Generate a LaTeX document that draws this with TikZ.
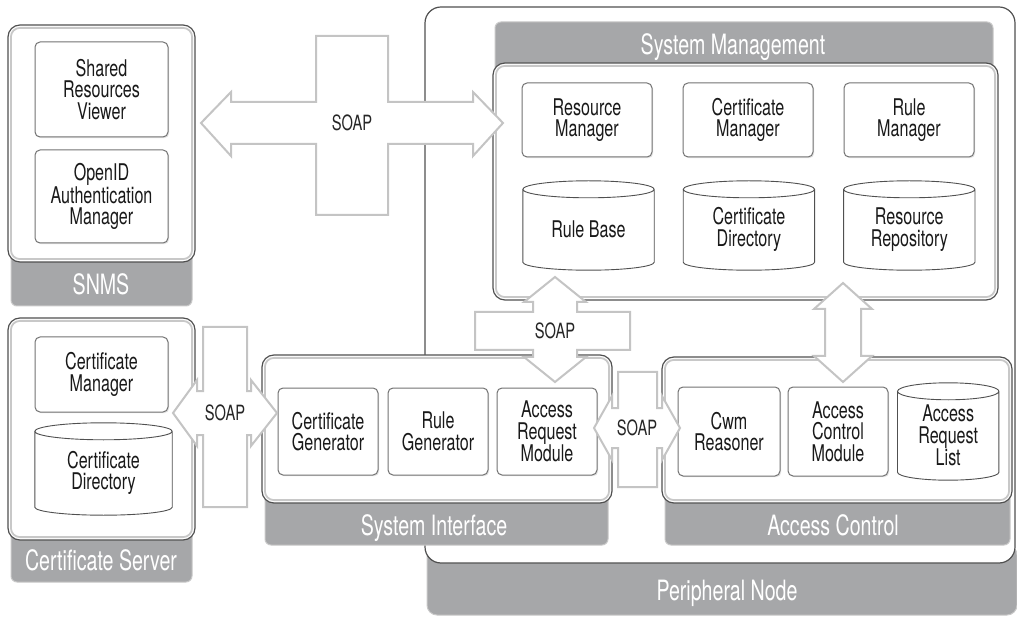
\documentclass[tikz,border=0pt]{standalone}
\usepackage{fontspec}
\setmainfont{TeX Gyre Heros}[FakeStretch=0.7]
\usetikzlibrary{shapes,arrows,positioning,shadows,calc}
\definecolor{bandgray}{RGB}{166,167,169}
\definecolor{framegray}{RGB}{80,80,80}
\definecolor{linegray}{RGB}{200,200,200}
\definecolor{boxgray}{RGB}{115,115,115}
\definecolor{soapgray}{RGB}{196,196,196}

\begin{document}
\begin{tikzpicture}[x=1pt,y=-1pt,
    band/.style={rectangle,draw=linegray,fill=bandgray,rounded corners=6pt,line width=1pt},
    frame/.style={rectangle,draw=framegray,fill=white,rounded corners=12pt,line width=1.2pt},
    inline/.style={draw=linegray,line width=1.8pt,rounded corners=9pt},
    comp/.style={rectangle,draw=boxgray,fill=white,rounded corners=5pt,line width=1pt,align=center,inner sep=0pt,
      text=black!90,font=\fontsize{23}{21.5}\selectfont,
      drop shadow={opacity=0.22,shadow xshift=1.2pt,shadow yshift=-1.2pt}},
    dbase/.style={rectangle,align=center,inner sep=0pt,text=black!90,font=\fontsize{23}{21.5}\selectfont},
    cyl/.style={draw=framegray,line width=0.9pt},
    grp/.style={anchor=base,text=white,font=\fontsize{28}{30}\selectfont},
    soap/.style={draw=soapgray,fill=white,line width=2pt,line join=miter},
    soaplbl/.style={text=black!85,font=\fontsize{21}{22}\selectfont}]
    \useasboundingbox (0,0) rectangle (1017,617);

    \node[band,rounded corners=10pt,minimum width=590pt,minimum height=70pt] (pnb) at (722,580) {};
    \node[frame,rounded corners=16pt,minimum width=590pt,minimum height=556pt] (pnf) at (720,285) {};
    \node[grp] (pnl) at (727,600) {Peripheral Node};

    \node[band,minimum width=181pt,minimum height=279pt] (snmsb) at (101.5,166.5) {};
    \node[frame,minimum width=187pt,minimum height=237pt] (snmsf) at (101.5,143.5) {};
    \node[grp] (snmsl) at (101,295) {SNMS};

    \node[band,minimum width=181pt,minimum height=262pt] (certb) at (101.5,451) {};
    \node[frame,minimum width=187pt,minimum height=222pt] (certf) at (101.5,429) {};
    \node[grp] (certl) at (101,570) {Certificate Server};

    \node[band,minimum width=498pt,minimum height=88pt] (smb) at (744,66) {};
    \node[frame,minimum width=505pt,minimum height=237pt] (smf) at (745.5,181.5) {};
    \node[grp] (sml) at (733,55) {System Management};

    \node[band,minimum width=343pt,minimum height=185pt] (sib) at (436.5,452.5) {};
    \node[frame,minimum width=350pt,minimum height=148pt] (sif) at (437,429) {};
    \node[grp] (sil) at (434,535) {System Interface};

    \node[band,minimum width=345pt,minimum height=185pt] (acb) at (837.5,452.5) {};
    \node[frame,minimum width=350pt,minimum height=146pt] (acf) at (837,430) {};
    \node[grp] (acl) at (833,535) {Access Control};

    \foreach \f in {snmsf,certf,smf,sif,acf}
      \draw[inline] ([shift={(3.5,3.5)}]\f.north west) rectangle ([shift={(-3.5,-3.5)}]\f.south east);

    \node[comp,minimum width=133pt,minimum height=95pt] (srv) at (101.5,89.5) {Shared\\Resources\\Viewer};
    \node[comp,minimum width=133pt,minimum height=93pt,below=12pt of srv] (oidm) {OpenID\\Authentication\\Manager};

    \node[comp,minimum width=133pt,minimum height=75pt] (certm) at (101.5,374.5) {Certificate\\Manager};
    \node[dbase,minimum width=137pt,minimum height=92pt] (certd) at (103.5,473) {Certificate\\Directory};

    \node[comp,minimum width=130pt,minimum height=74pt] (resm) at (587,120) {Resource\\Manager};
    \node[comp,minimum width=130pt,minimum height=74pt,right=30pt of resm] (certm2) {Certificate\\Manager};
    \node[comp,minimum width=130pt,minimum height=74pt,right=30pt of certm2] (rulem) {Rule\\Manager};
    \node[dbase,minimum width=131pt,minimum height=89pt] (rbase) at (588.5,229.5) {Rule Base};
    \node[dbase,minimum width=131pt,minimum height=89pt,right=29pt of rbase] (cdir) {Certificate\\Directory};
    \node[dbase,minimum width=131pt,minimum height=89pt,right=29pt of cdir] (rrepo) {Resource\\Repository};

    \node[comp,minimum width=100pt,minimum height=87pt] (certg) at (328,431.5) {Certificate\\Generator};
    \node[comp,minimum width=100pt,minimum height=87pt,right=9pt of certg] (ruleg) {Rule\\Generator};
    \node[comp,minimum width=100pt,minimum height=87pt,right=8pt of ruleg] (arm) {Access\\Request\\Module};

    \node[comp,minimum width=102pt,minimum height=89pt] (cwm) at (729,431.5) {Cwm\\Reasoner};
    \node[comp,minimum width=100pt,minimum height=89pt,right=7pt of cwm] (acm) {Access\\Control\\Module};
    \node[dbase,minimum width=101pt,minimum height=97pt,right=9pt of acm,yshift=-4pt] (arl) {Access\\Request\\List};

    \foreach \db in {certd,rbase,cdir,rrepo,arl}
      \draw[cyl] let \p1=($(\db.east)-(\db.west)$) in
        ([yshift=-4.5pt]\db.north west) -- ([yshift=12pt]\db.south west)
        arc[start angle=180,end angle=360,x radius=0.5*\x1,y radius=8pt]
        -- ([yshift=-4.5pt]\db.north east)
        arc[start angle=0,end angle=180,x radius=0.5*\x1,y radius=8.5pt]
        arc[start angle=180,end angle=360,x radius=0.5*\x1,y radius=8.5pt];

    \draw[soap] (201,123) -- (231,92) -- (231,102) -- (316,102) -- (316,36) -- (388,36) -- (388,102)
      -- (473,102) -- (473,92) -- (503,123) -- (473,156) -- (473,144) -- (388,144) -- (388,215)
      -- (316,215) -- (316,144) -- (231,144) -- (231,156) -- cycle;
    \node[soaplbl] (soap1) at (352,123) {SOAP};

    \draw[soap] (173,413) -- (197,380) -- (197,391) -- (203,391) -- (203,327) -- (247,327) -- (247,391)
      -- (251,391) -- (251,380) -- (277,413) -- (251,446) -- (251,435) -- (247,435) -- (247,507)
      -- (203,507) -- (203,435) -- (197,435) -- (197,446) -- cycle;
    \node[soaplbl] (soap2) at (225,413) {SOAP};

    \draw[soap] (555,277) -- (586,302) -- (577,302) -- (577,312) -- (630,312) -- (630,350) -- (577,350)
      -- (577,357) -- (586,357) -- (555,382) -- (524,357) -- (533,357) -- (533,350) -- (475,350)
      -- (475,312) -- (533,312) -- (533,302) -- (524,302) -- cycle;
    \node[soaplbl] (soap3) at (555,331) {SOAP};

    \draw[soap] (594,428) -- (612,396) -- (612,408) -- (618,408) -- (618,372) -- (657,372) -- (657,408)
      -- (662,408) -- (662,396) -- (680,428) -- (662,460) -- (662,448) -- (657,448) -- (657,487)
      -- (618,487) -- (618,448) -- (612,448) -- (612,460) -- cycle;
    \node[soaplbl] (soap4) at (637,428) {SOAP};

    \draw[soap] (843,283) -- (872,309) -- (861,309) -- (861,356) -- (872,356) -- (843,382)
      -- (814,356) -- (825,356) -- (825,309) -- (814,309) -- cycle;
\end{tikzpicture}
\end{document}
